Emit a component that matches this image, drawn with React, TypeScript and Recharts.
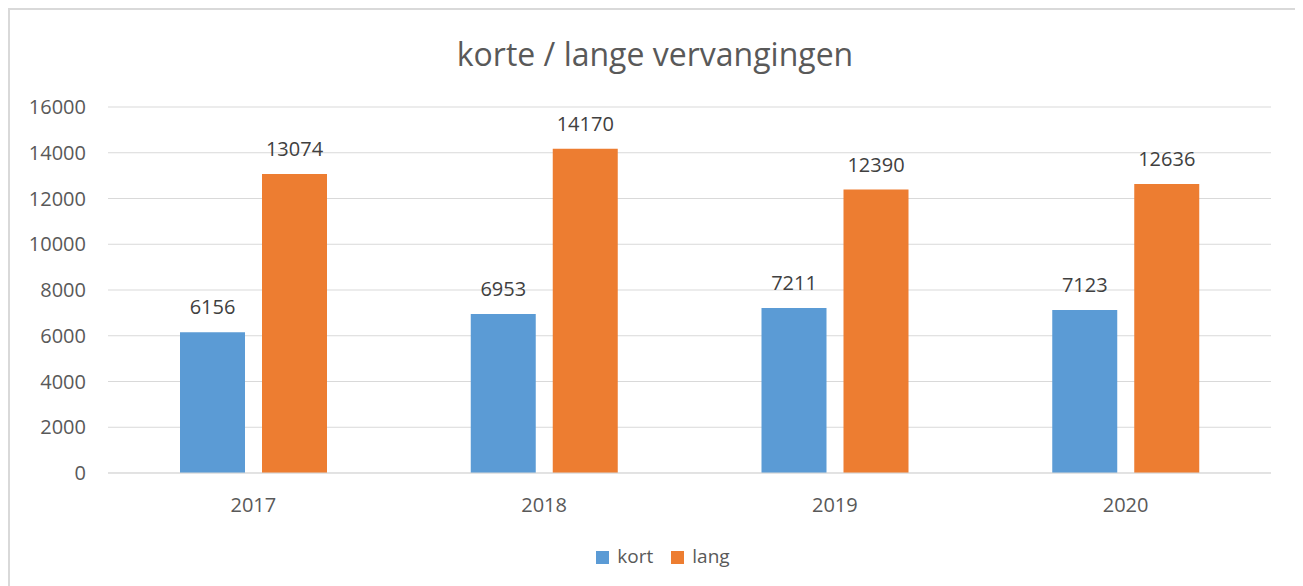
import React from 'react';
import { BarChart, Bar, XAxis, YAxis, CartesianGrid, Legend, LabelList } from 'recharts';

const years = ['2017', '2018', '2019', '2020'];
const kort = [6156, 6953, 7211, 7123];
const lang = [13074, 14170, 12390, 12636];
const yTicks = [0, 2000, 4000, 6000, 8000, 10000, 12000, 14000, 16000];

const data = years.map((y, i) => ({ year: y, kort: kort[i], lang: lang[i] }));

const FONT = '"Open Sans", "Liberation Sans", sans-serif';
const GREY = '#595959';

const LegendContent = (props: any) => {
  const items = props.payload || [];
  return (
    <div style={{ display: 'flex', justifyContent: 'center', alignItems: 'center', gap: 18, height: 24 }}>
      {items.map((it: any) => (
        <div key={it.value} style={{ display: 'flex', alignItems: 'center' }}>
          <span style={{ width: 13, height: 13, background: it.color, marginRight: 8, marginTop: 3 }} />
          <span style={{ color: GREY, fontSize: 19, fontFamily: FONT }}>{it.value}</span>
        </div>
      ))}
    </div>
  );
};

export default function App() {
  return (
    <div style={{ position: 'relative', fontFamily: FONT }}>
      {/* tail of a caption that sits above the chart box */}
      <span style={{ position: 'absolute', left: 50, top: -31, fontSize: 20, color: '#000' }}>g</span>
      <div
        style={{
          position: 'relative',
          width: 1290,
          height: 590,
          border: '2px solid #d9d9d9',
          background: '#fff',
        }}
      >
        <div
          style={{
            position: 'absolute',
            top: 26,
            left: 0,
            width: '100%',
            textAlign: 'center',
            fontSize: 32,
            lineHeight: '36px',
            color: GREY,
          }}
        >
          korte / lange vervangingen
        </div>
        <BarChart
          width={1290}
          height={576}
          data={data}
          margin={{ top: 97, right: 29, left: 0, bottom: 18 }}
          barGap={17}
          barSize={65}
        >
          <CartesianGrid vertical={false} stroke="#d9d9d9" />
          <XAxis
            dataKey="year"
            height={71}
            tickLine={false}
            tickSize={0}
            tickMargin={25}
            axisLine={{ stroke: '#d9d9d9' }}
            tick={{ fill: GREY, fontSize: 20, fontFamily: FONT }}
          />
          <YAxis
            width={98}
            domain={[0, 16000]}
            ticks={yTicks}
            axisLine={false}
            tickLine={false}
            tickSize={0}
            tickMargin={22}
            tick={{ fill: GREY, fontSize: 20, fontFamily: FONT }}
          />
          <Legend
            verticalAlign="bottom"
            align="center"
            height={24}
            wrapperStyle={{ left: 8, width: 1290 }}
            content={<LegendContent />}
          />
          <Bar dataKey="kort" name="kort" fill="#5b9bd5" isAnimationActive={false}>
            <LabelList dataKey="kort" position="top" offset={18} fill="#404040" fontSize={20} fontFamily={FONT} />
          </Bar>
          <Bar dataKey="lang" name="lang" fill="#ed7d31" isAnimationActive={false}>
            <LabelList dataKey="lang" position="top" offset={18} fill="#404040" fontSize={20} fontFamily={FONT} />
          </Bar>
        </BarChart>
      </div>
    </div>
  );
}
